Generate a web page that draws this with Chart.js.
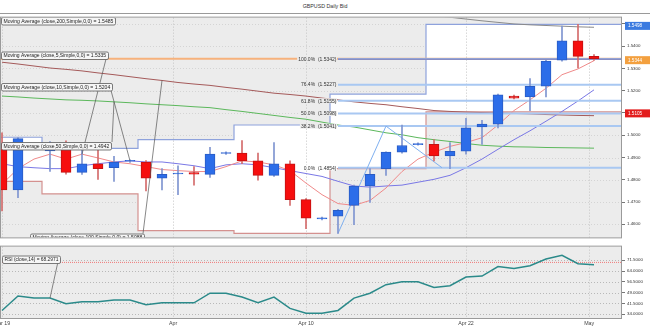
<!DOCTYPE html>
<html><head><meta charset="utf-8">
<script src="https://cdn.jsdelivr.net/npm/chart.js@4.4.1/dist/chart.umd.min.js"></script>
<style>
html,body{margin:0;padding:0;background:#fff;width:650px;height:328px;overflow:hidden;font-family:"Liberation Sans",Arial,sans-serif;}
#title{position:absolute;left:0;top:3px;width:650px;text-align:center;font-size:5.3px;line-height:6px;color:#333;}
canvas{position:absolute;left:0;}
</style></head><body>
<div id="title">GBPUSD Daily Bid</div>
<canvas id="main" width="650" height="229" style="top:13px"></canvas>
<canvas id="rsi" width="650" height="86" style="top:242px"></canvas>
<script>
// ---------------- DATA ----------------
const dates = ['Mar 19','Mar 20','Mar 22','Mar 23','Mar 24','Mar 25','Mar 26','Mar 27','Mar 29','Mar 30','Mar 31','Apr 1','Apr 2','Apr 3','Apr 5','Apr 6','Apr 7','Apr 8','Apr 9','Apr 10','Apr 12','Apr 13','Apr 14','Apr 15','Apr 16','Apr 17','Apr 19','Apr 20','Apr 21','Apr 22','Apr 23','Apr 24','Apr 26','Apr 27','Apr 28','Apr 29','Apr 30','May 1'];
const opens  = [1.4959,1.4754,1.4950,1.4930,1.4963,1.4833,1.4872,1.4854,1.4883,1.4880,1.4807,1.4826,1.4832,1.4824,1.4918,1.4920,1.4885,1.4820,1.4872,1.4711,1.4624,1.4637,1.4685,1.4772,1.4850,1.4924,1.4958,1.4959,1.4907,1.4928,1.5037,1.5050,1.5176,1.5172,1.5220,1.5337,1.5424,1.5354];
const highs  = [1.5011,1.4990,1.4958,1.4972,1.4975,1.4945,1.4950,1.4905,1.4890,1.4886,1.4850,1.4863,1.4859,1.4946,1.4925,1.4976,1.4920,1.4967,1.4885,1.4715,1.4632,1.4667,1.4776,1.4850,1.4926,1.5046,1.4966,1.4980,1.4967,1.5076,1.5067,1.5185,1.5180,1.5254,1.5337,1.5490,1.5498,1.5362];
const lows   = [1.4660,1.4720,1.4945,1.4837,1.4825,1.4824,1.4802,1.4793,1.4878,1.4750,1.4754,1.4733,1.4776,1.4811,1.4914,1.4872,1.4798,1.4815,1.4685,1.4580,1.4620,1.4559,1.4598,1.4698,1.4820,1.4920,1.4955,1.4885,1.4850,1.4915,1.4959,1.5033,1.5163,1.5110,1.5172,1.5333,1.5302,1.5336];
const closes = [1.4754,1.4985,1.4953,1.4965,1.4833,1.4872,1.4850,1.4880,1.4886,1.4807,1.4824,1.4830,1.4825,1.4915,1.4921,1.4885,1.4820,1.4872,1.4711,1.4628,1.4628,1.4663,1.4772,1.4824,1.4924,1.4954,1.4962,1.4907,1.4928,1.5033,1.5050,1.5182,1.5167,1.5220,1.5333,1.5424,1.5354,1.5344];

const ma5   = [1.4780,1.4850,1.4893,1.4915,1.4893,1.4915,1.4898,1.4880,1.4872,1.4859,1.4846,1.4841,1.4837,1.4837,1.4859,1.4885,1.4880,1.4867,1.4841,1.4785,1.4733,1.4693,1.4685,1.4707,1.4763,1.4837,1.4893,1.4924,1.4950,1.4967,1.4989,1.5046,1.5111,1.5159,1.5211,1.5272,1.5298,1.5335];
const ma10  = [1.4872,1.4859,1.4854,1.4850,1.4850,1.4863,1.4872,1.4880,1.4885,1.4880,1.4880,1.4872,1.4863,1.4850,1.4867,1.4872,1.4867,1.4854,1.4841,1.4828,1.4815,1.4793,1.4772,1.4767,1.4772,1.4776,1.4789,1.4802,1.4820,1.4854,1.4893,1.4937,1.4980,1.5020,1.5063,1.5107,1.5154,1.5204];
const ma50  = [1.5176,1.5172,1.5167,1.5163,1.5159,1.5157,1.5154,1.5150,1.5146,1.5141,1.5137,1.5133,1.5128,1.5124,1.5115,1.5107,1.5098,1.5089,1.5080,1.5072,1.5059,1.5046,1.5037,1.5024,1.5011,1.5002,1.4989,1.4980,1.4972,1.4963,1.4955,1.4951,1.4948,1.4947,1.4945,1.4944,1.4943,1.4942];
const ma100 = [1.5328,1.5320,1.5311,1.5302,1.5296,1.5289,1.5280,1.5272,1.5263,1.5254,1.5246,1.5237,1.5230,1.5224,1.5215,1.5207,1.5198,1.5189,1.5183,1.5176,1.5167,1.5159,1.5150,1.5143,1.5137,1.5128,1.5120,1.5111,1.5107,1.5104,1.5102,1.5100,1.5098,1.5096,1.5093,1.5091,1.5089,1.5088];
const ma200 = [null,null,null,null,null,null,null,null,null,null,null,null,null,null,null,null,null,null,null,null,null,null,null,null,null,null,null,1.5538,1.5530,1.5522,1.5514,1.5507,1.5500,1.5496,1.5493,1.5490,1.5487,1.5485];

const rsi = [36.6,46.6,45.2,45.2,41.3,42.6,42.6,43.9,43.9,40.6,41.9,41.9,41.9,48.6,48.6,45.9,41.9,45.9,38.0,34.7,34.7,36.6,45.2,48.6,54.5,56.5,56.5,52.5,53.8,59.8,60.5,67.1,65.7,67.7,72.4,75.0,69.1,68.2971];
const rsiLevel = 70;

const weekStart = [-0.5,2.5,8.5,14.5,20.5,26.5,32.5];
const weekHigh  = [1.5118,1.4991,1.4941,1.4980,1.5046,1.5185,1.5498];
const weekLow   = [1.4633,1.4793,1.4737,1.4572,1.4559,1.4850,1.5105];

const fibPct   = ['100.0%','76.4%','61.8%','50.0%','38.2%','0.0%'];
const fibLevel = [1.5342,1.5227,1.5155,1.5098,1.5041,1.4854];
const fibStart = 21;

const zigX = [21,24,27.5];
const zigY = [1.4559,1.5041,1.4854];

const lastPrice = 1.5344;
const tagValues = [1.5498,1.5344,1.5105];

const tickAt     = [0,10.7,19,29,36.7];
const tickLabels = ['Mar 19','Apr','Apr 10','Apr 22','May'];
const priceTicks = [1.46,1.47,1.48,1.49,1.50,1.51,1.52,1.53,1.54,1.55];
const rsiTicks   = [34,41.5,49,56.5,64,71.5];

// ---------------- LAYOUT / STYLE ----------------
const FF = '"Liberation Sans", Arial, sans-serif';
Chart.defaults.font.family = FF;
const X_MIN = -0.125, X_MAX = 38.75;
const Y_MIN = 1.45413, Y_MAX = 1.55283;
const R_MIN = 31.35, R_MAX = 80.96;
const UP = '#2c6de9', UP_B = '#2a5cc4', DN = '#f60e0e', DN_B = '#c21212';
const UP_W = '#7f95d0', DN_W = '#d46b6b';
const tagColors = ['#3b7be0','#f3a03f','#e31d1d'];
const maCols = {5:'#f08a8a',10:'#7a78e6',50:'#5cb85c',100:'#a55a5a',200:'#8a8a8a'};
const maTagLayout = [ // page coords: x, y, width, leader-from x,y, leader-to index
  {p:200, s:ma200, x:1,  y:17,    w:114, fx:113, fy:17,    ti:null},
  {p:5,   s:ma5,   x:1,  y:51.5,  w:107, fx:106, fy:59,    ti:5},
  {p:10,  s:ma10,  x:1,  y:83,    w:111, fx:111, fy:90.5,  ti:8},
  {p:50,  s:ma50,  x:1,  y:142,   w:110, fx:112, fy:142,   ti:7},
  {p:100, s:ma100, x:30, y:233.5, w:114, fx:143, fy:233.5, ti:10}
];
const MAIN_TOP = 13, RSI_TOP = 242;

const idx = dates.map((_, i) => i);
const isUp = i => i !== undefined && closes[i] >= opens[i];
const pts = arr => arr.map((v, i) => ({x: i, y: v}));
const lineDs = (data, color, width, order, extra) => Object.assign({type:'line', data, borderColor:color, borderWidth:width, pointRadius:0, tension:0, fill:false, order}, extra || {});
const stepPts = arr => weekStart.map((s, k) => ({x: s, y: arr[k]})).concat([{x: X_MAX, y: arr[arr.length - 1]}]);

function drawTag(ctx, text, x, y, w, h) {
  ctx.font = '5px ' + FF;
  const tw = ctx.measureText(text).width;
  const fs = Math.min(5.6, 5 * (w - 4) / tw);
  ctx.font = fs + 'px ' + FF;
  ctx.beginPath();
  ctx.roundRect(x + 0.5, y + 0.5, w, h, 1.5);
  ctx.fillStyle = '#f6f6f6'; ctx.fill();
  ctx.strokeStyle = '#5a5a5a'; ctx.lineWidth = 0.8; ctx.stroke();
  ctx.fillStyle = '#222'; ctx.textAlign = 'left'; ctx.textBaseline = 'middle';
  ctx.fillText(text, x + 2.5, y + h / 2 + 0.8);
}

// ---------------- MAIN CHART ----------------
const fibDs = fibLevel.map((lv, k) => lineDs([{x: fibStart, y: lv}, {x: X_MAX, y: lv}], '#a9c8f2', 2, 4));

const mainPlugin = {
  id: 'mainDeco',
  beforeDraw(chart) {
    const {ctx, chartArea: a, scales: {y}} = chart;
    ctx.save();
    ctx.fillStyle = '#ececec';
    ctx.fillRect(a.left, a.top, a.right - a.left, a.bottom - a.top);
    ctx.strokeStyle = '#d4d4d4'; ctx.lineWidth = 1; ctx.setLineDash([1, 2]);
    priceTicks.forEach(v => {
      const py = Math.round(y.getPixelForValue(v)) + 0.5;
      ctx.beginPath(); ctx.moveTo(a.left, py); ctx.lineTo(a.right, py); ctx.stroke();
    });
    ctx.restore();
  },
  beforeDatasetsDraw(chart) {
    const {ctx, chartArea: a, scales: {x}} = chart;
    ctx.save();
    ctx.strokeStyle = '#c4c4c4'; ctx.lineWidth = 1; ctx.setLineDash([1, 2]);
    tickAt.forEach(v => {
      const px = Math.round(x.getPixelForValue(v)) + 0.5;
      ctx.beginPath(); ctx.moveTo(px, a.top); ctx.lineTo(px, a.bottom); ctx.stroke();
    });
    ctx.restore();
  },
  afterDraw(chart) {
    const {ctx, chartArea: a, scales: {x, y}} = chart;
    ctx.save();
    ctx.fillStyle = '#9a9a9a'; ctx.fillRect(0, 0, chart.width, 1);
    ctx.strokeStyle = '#9a9a9a'; ctx.lineWidth = 1;
    ctx.strokeRect(a.left + 0.5, a.top - 0.5, a.right - a.left - 1, a.bottom - a.top + 1);
    ctx.save();
    ctx.beginPath(); ctx.rect(a.left, a.top, a.right - a.left, a.bottom - a.top); ctx.clip();
    // fib labels
    ctx.font = '5px ' + FF; ctx.textAlign = 'right'; ctx.textBaseline = 'middle';
    fibLevel.forEach((lv, k) => {
      const text = fibPct[k] + '  (' + lv.toFixed(4) + ')';
      const rx = x.getPixelForValue(fibStart) - 1.5;
      const py = y.getPixelForValue(lv);
      const w = ctx.measureText(text).width;
      const cx = x.getValueForPixel(rx - w / 2);
      let wk = 0; weekStart.forEach((s, j) => { if (cx >= s) wk = j; });
      const inside = lv <= weekHigh[wk] && lv >= weekLow[wk];
      ctx.fillStyle = inside ? '#ffffff' : '#ececec';
      ctx.fillRect(rx - w - 1, py - 2.5, w + 1.5, 5);
      ctx.fillStyle = '#333';
      ctx.fillText(text, rx, py + 0.4);
    });
    // leader lines
    ctx.strokeStyle = '#555'; ctx.lineWidth = 0.7;
    maTagLayout.forEach(t => {
      const fx = t.fx, fy = t.fy - MAIN_TOP;
      let tx, ty;
      if (t.ti === null) { tx = fx; ty = a.top - 2; }
      else { tx = x.getPixelForValue(t.ti); ty = y.getPixelForValue(t.s[t.ti]); }
      ctx.beginPath(); ctx.moveTo(fx, fy); ctx.lineTo(tx, ty); ctx.stroke();
    });
    maTagLayout.forEach(t => {
      const text = 'Moving Average (close,' + t.p + ',Simple,0,0) = ' + t.s[t.s.length - 1].toFixed(4);
      drawTag(ctx, text, t.x, t.y - MAIN_TOP, t.w, 7.5);
    });
    ctx.restore();
    // axis value tags
    tagValues.forEach((v, k) => {
      const py = y.getPixelForValue(v) + 1.5;
      ctx.fillStyle = tagColors[k];
      ctx.fillRect(a.right + 3, py - 4, chart.width - a.right - 3, 8);
      ctx.fillStyle = '#fff'; ctx.font = '4.6px ' + FF; ctx.textAlign = 'left'; ctx.textBaseline = 'middle';
      ctx.fillText(v.toFixed(4), a.right + 6, py + 0.3);
    });
    ctx.restore();
  }
};

new Chart(document.getElementById('main'), {
  type: 'bar',
  data: {
    datasets: [
      {type:'bar', data: idx.map(i => ({x: i, y: [opens[i], closes[i]]})),
       backgroundColor: c => isUp(c.dataIndex) ? UP : DN,
       borderColor: c => isUp(c.dataIndex) ? UP_B : DN_B,
       borderWidth: 1, borderSkipped: false, barThickness: 10, grouped: false, minBarLength: 1, order: 0},
      {type:'bar', data: idx.map(i => ({x: i, y: [lows[i], highs[i]]})),
       backgroundColor: c => isUp(c.dataIndex) ? UP_W : DN_W,
       borderWidth: 0, barThickness: 1, grouped: false, order: 1},
      lineDs(zigX.map((v, k) => ({x: v, y: zigY[k]})), '#7fb0f0', 1, 2),
      lineDs([{x: fibStart, y: fibLevel[0]}, {x: X_MAX, y: fibLevel[0]}], '#7469a6', 1, 3),
      lineDs([{x: X_MIN, y: lastPrice}, {x: X_MAX, y: lastPrice}], '#f7b27c', 2, 5),
      ...fibDs,
      lineDs(pts(ma5), maCols[5], 1, 6),
      lineDs(pts(ma10), maCols[10], 1, 7),
      lineDs(pts(ma50), maCols[50], 1, 8),
      lineDs(pts(ma100), maCols[100], 1, 9),
      lineDs(pts(ma200), maCols[200], 1, 10),
      lineDs(stepPts(weekHigh), '#8ea2dc', 1.2, 11, {stepped: 'after', fill: '+1', backgroundColor: '#ffffff'}),
      lineDs(stepPts(weekLow), '#d4918f', 1.2, 12, {stepped: 'after'})
    ]
  },
  options: {
    responsive: false, animation: false, devicePixelRatio: 1,
    layout: {padding: {left: 0, right: 0, top: 1, bottom: 1}},
    plugins: {legend: {display: false}, tooltip: {enabled: false}, filler: {drawTime: 'beforeDatasetsDraw'}},
    scales: {
      x: {type: 'linear', min: X_MIN, max: X_MAX, offset: false, display: false},
      y: {type: 'linear', position: 'right', min: Y_MIN, max: Y_MAX,
          afterFit(s) { s.width = 28; },
          afterBuildTicks(s) { s.ticks = priceTicks.map(v => ({value: v})); },
          ticks: {callback: v => Number(v).toFixed(4), font: {size: 4.4}, color: '#333', padding: 2, autoSkip: false},
          grid: {drawOnChartArea: false, drawTicks: true, tickLength: 3, tickColor: '#777', color: '#777'},
          border: {display: false}}
    }
  },
  plugins: [mainPlugin]
});

// ---------------- RSI CHART ----------------
const rsiPlugin = {
  id: 'rsiDeco',
  beforeDraw(chart) {
    const {ctx, chartArea: a, scales: {x, y}} = chart;
    ctx.save();
    ctx.fillStyle = '#ececec';
    ctx.fillRect(a.left, a.top, a.right - a.left, a.bottom - a.top);
    ctx.strokeStyle = '#b8b8b8'; ctx.lineWidth = 1; ctx.setLineDash([1, 2]);
    rsiTicks.forEach(v => {
      const py = Math.round(y.getPixelForValue(v)) + 0.5;
      ctx.beginPath(); ctx.moveTo(a.left, py); ctx.lineTo(a.right, py); ctx.stroke();
    });
    ctx.strokeStyle = '#c4c4c4';
    tickAt.forEach(v => {
      const px = Math.round(x.getPixelForValue(v)) + 0.5;
      ctx.beginPath(); ctx.moveTo(px, a.top); ctx.lineTo(px, a.bottom); ctx.stroke();
    });
    ctx.restore();
  },
  afterDraw(chart) {
    const {ctx, chartArea: a, scales: {x, y}} = chart;
    ctx.save();
    ctx.strokeStyle = '#9a9a9a'; ctx.lineWidth = 1;
    ctx.strokeRect(a.left + 0.5, a.top - 0.5, a.right - a.left - 1, a.bottom - a.top + 1);
    ctx.beginPath(); ctx.rect(a.left, a.top, a.right - a.left, a.bottom - a.top); ctx.clip();
    ctx.strokeStyle = '#555'; ctx.lineWidth = 0.7;
    ctx.beginPath(); ctx.moveTo(59, 257 - RSI_TOP); ctx.lineTo(x.getPixelForValue(3), y.getPixelForValue(rsi[3])); ctx.stroke();
    drawTag(ctx, 'RSI (close,14) = ' + rsi[rsi.length - 1].toFixed(4), 2, 255.5 - RSI_TOP, 58, 7.5);
    ctx.restore();
  }
};

new Chart(document.getElementById('rsi'), {
  type: 'line',
  data: {
    datasets: [
      lineDs(pts(rsi), '#2b8a8a', 1.5, 0),
      lineDs([{x: X_MIN, y: rsiLevel}, {x: X_MAX, y: rsiLevel}], '#f07a7a', 1, 1, {borderDash: [1, 1]})
    ]
  },
  options: {
    responsive: false, animation: false, devicePixelRatio: 1,
    layout: {padding: {left: 0, right: 0, top: 1, bottom: 0}},
    plugins: {legend: {display: false}, tooltip: {enabled: false}},
    scales: {
      x: {type: 'linear', min: X_MIN, max: X_MAX, offset: false,
          afterBuildTicks(s) { s.ticks = tickAt.map(v => ({value: v})); },
          afterFit(s) { s.height = 10; s.paddingLeft = 0; s.paddingRight = 0; },
          ticks: {callback: (v, i) => tickLabels[i], autoSkip: false, maxRotation: 0, minRotation: 0, font: {size: 5.3}, color: '#444', padding: 2},
          grid: {display: false, drawTicks: false}, border: {display: false}},
      y: {type: 'linear', position: 'right', min: R_MIN, max: R_MAX,
          afterFit(s) { s.width = 28; },
          afterBuildTicks(s) { s.ticks = rsiTicks.map(v => ({value: v})); },
          ticks: {callback: v => Number(v).toFixed(4), font: {size: 4.4}, color: '#333', padding: 2, autoSkip: false},
          grid: {drawOnChartArea: false, drawTicks: true, tickLength: 3, tickColor: '#777', color: '#777'},
          border: {display: false}}
    }
  },
  plugins: [rsiPlugin]
});
</script>
</body></html>
